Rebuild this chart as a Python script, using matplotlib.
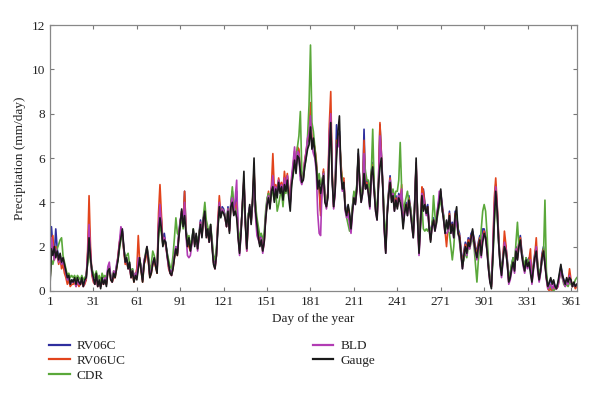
import matplotlib
matplotlib.use("Agg")
import matplotlib.pyplot as plt
import numpy as np

plt.rcParams['font.family'] = ['Liberation Serif', 'DejaVu Serif']

days = list(range(1, 366))

gauge = [
0.2,1.9,1.6,2.0,1.5,1.8,1.4,1.7,1.3,1.5,
1.2,0.9,0.6,0.7,0.3,0.5,0.4,0.6,0.3,0.6,
0.4,0.3,0.6,0.2,0.5,0.6,1.3,2.4,1.5,0.9,
0.6,0.3,0.8,0.2,0.5,0.1,0.6,0.3,0.5,0.2,
0.9,1.0,0.5,0.4,0.8,0.6,1.0,1.4,2.0,2.4,
2.8,2.0,1.3,1.5,1.0,1.3,0.6,0.9,0.4,0.7,
0.5,1.0,1.5,0.9,0.4,1.2,1.6,2.0,1.4,0.6,
0.8,1.2,1.5,1.1,0.8,2.6,3.3,2.8,2.0,2.3,
2.2,1.6,1.2,0.8,0.7,1.0,1.5,1.9,1.6,2.4,
3.0,3.7,2.9,3.4,2.6,2.0,2.4,1.8,2.2,2.8,
2.0,2.6,1.9,2.5,3.0,2.4,3.2,3.6,2.4,2.8,
2.2,3.0,2.0,1.2,1.0,1.6,2.8,3.8,3.3,3.6,
3.5,3.3,2.9,3.6,2.6,3.8,4.0,3.4,3.6,3.3,
2.4,1.7,2.6,4.0,5.4,3.0,1.9,3.2,3.9,3.0,
4.2,6.0,3.6,3.0,2.4,2.0,2.3,1.8,2.2,3.2,
3.9,4.2,3.7,4.5,4.7,4.0,4.6,4.2,4.9,4.4,
4.7,4.1,4.8,4.5,5.0,4.2,3.6,4.8,5.3,5.9,
5.3,6.1,6.0,5.4,4.9,5.0,5.6,6.0,6.4,6.6,
7.4,6.4,6.9,6.2,5.6,4.6,5.0,4.4,4.8,5.2,
4.0,3.8,4.2,6.3,7.6,5.0,3.8,4.5,6.0,7.2,
7.9,5.4,4.6,4.9,3.7,3.4,3.9,3.5,2.8,3.6,
4.2,3.9,4.6,6.4,4.8,4.0,4.4,5.3,4.6,4.8,
4.4,3.8,5.2,5.6,4.5,3.6,3.2,4.8,5.6,6.0,
4.6,2.8,1.7,3.4,4.3,4.9,4.0,4.3,3.6,4.1,
3.7,4.2,4.0,3.6,2.8,3.5,3.9,3.4,4.1,3.6,
3.0,2.4,3.8,6.0,3.2,1.7,3.0,4.3,3.6,3.9,
3.5,3.8,2.8,2.2,2.9,3.2,2.7,3.1,3.6,4.0,
4.6,3.7,3.2,2.6,3.2,2.8,3.4,2.6,3.0,2.4,
3.4,3.8,2.6,2.4,1.7,1.0,1.6,2.0,1.7,2.2,
2.0,2.4,2.8,2.2,1.8,1.5,2.0,2.3,1.6,2.2,
2.6,2.4,1.8,1.0,0.4,0.1,1.5,3.2,4.5,3.6,
2.2,1.2,0.7,1.4,2.0,1.8,1.2,0.4,0.6,1.0,
1.3,0.9,1.8,1.4,2.0,2.3,1.6,1.2,0.9,1.4,
1.1,1.3,0.8,0.4,1.0,1.5,1.8,1.0,0.5,0.9,
1.5,1.8,1.2,0.6,0.2,0.4,0.6,0.3,0.5,0.2,
0.1,0.4,0.8,1.2,0.7,0.5,0.3,0.6,0.4,0.6,
0.5,0.2,0.4,0.2,0.3]

rv06c = [
0.3,2.9,2.0,1.6,2.8,1.9,1.5,1.6,1.2,1.4,
1.0,0.8,0.5,0.6,0.4,0.4,0.5,0.5,0.3,0.5,
0.3,0.4,0.5,0.3,0.4,0.5,1.5,3.0,1.6,0.8,
0.5,0.4,0.7,0.3,0.4,0.2,0.5,0.4,0.6,0.3,
1.0,1.1,0.6,0.5,0.7,0.7,1.1,1.5,2.1,2.6,
2.7,1.9,1.4,1.4,1.1,1.2,0.7,1.0,0.5,0.8,
0.6,1.2,1.4,1.0,0.5,1.3,1.5,1.9,1.5,0.7,
0.9,1.3,1.4,1.2,0.9,2.9,3.9,3.2,2.2,2.6,
2.1,1.7,1.1,0.9,0.8,1.1,1.6,2.0,1.7,2.6,
3.2,3.5,3.1,4.5,2.8,2.2,2.1,1.9,2.3,2.7,
2.2,2.5,2.0,2.6,3.2,2.6,3.3,3.5,2.6,2.7,
2.3,2.9,2.2,1.4,1.1,1.7,3.0,3.9,3.4,3.8,
3.7,3.4,3.0,3.8,2.8,4.0,4.5,3.6,3.8,4.5,
2.6,1.9,2.8,3.8,4.9,3.2,2.0,3.4,3.8,3.2,
4.0,5.3,3.8,2.9,2.6,2.2,2.5,1.9,2.3,3.4,
4.1,4.4,3.9,4.6,5.0,4.3,4.7,4.4,5.0,4.6,
4.8,4.4,5.0,4.7,5.2,4.5,4.0,5.0,5.5,6.2,
5.6,6.4,6.3,5.2,5.0,5.2,5.8,6.2,6.7,6.9,
7.6,6.6,6.6,6.4,5.8,4.8,4.7,3.6,4.9,5.4,
4.2,3.9,4.4,7.0,8.1,5.2,3.9,4.6,7.5,6.8,
7.2,5.6,4.8,5.0,3.9,3.6,3.8,3.4,3.0,3.8,
4.4,4.1,4.7,6.2,5.0,4.2,4.6,7.3,4.8,5.0,
4.6,4.0,5.4,5.8,4.7,3.8,3.4,5.0,7.5,6.2,
4.8,3.0,1.9,3.6,4.5,5.2,4.3,4.5,3.8,4.3,
3.9,4.4,4.2,4.5,3.0,3.7,4.0,3.6,4.3,3.8,
3.2,2.6,4.0,5.6,3.4,1.9,3.2,4.4,4.6,4.0,
3.6,3.9,3.0,2.4,3.1,3.3,2.9,3.3,3.8,4.2,
4.4,3.9,3.4,2.8,3.0,2.9,3.6,2.8,3.1,2.6,
3.6,3.4,2.8,2.6,1.9,1.2,1.8,2.2,1.9,2.4,
2.2,2.6,2.7,2.4,2.0,1.7,2.2,2.5,1.8,2.8,
2.8,2.5,2.0,1.2,0.6,0.3,1.7,3.6,4.8,3.8,
2.4,1.4,0.9,1.6,2.2,2.0,1.4,0.5,0.8,1.2,
1.5,1.1,2.0,1.6,2.2,2.5,1.8,1.4,1.0,1.5,
1.3,1.5,1.0,0.5,1.2,1.7,2.0,1.2,0.6,1.0,
1.7,2.0,1.4,0.7,0.2,0.3,0.5,0.4,0.4,0.2,
0.2,0.3,0.7,1.1,0.8,0.5,0.4,0.5,0.5,0.7,
0.4,0.3,0.3,0.2,0.2]

rv06uc = [
0.4,2.2,2.5,1.4,2.0,1.6,1.2,1.5,1.0,1.2,
0.8,0.6,0.3,0.5,0.2,0.3,0.3,0.4,0.2,0.4,
0.2,0.3,0.4,0.2,0.3,0.5,1.8,4.3,2.0,0.7,
0.4,0.3,0.6,0.2,0.3,0.2,0.4,0.3,0.5,0.3,
0.9,1.0,0.5,0.4,0.6,0.6,1.0,1.6,2.2,2.5,
2.6,1.8,1.2,1.3,1.0,1.1,0.6,0.8,0.4,0.7,
1.0,2.5,1.3,0.9,0.4,1.2,1.4,1.8,1.3,0.6,
0.8,1.2,1.3,1.1,0.8,3.5,4.8,3.4,2.1,2.4,
2.0,1.6,1.0,0.8,0.7,1.0,1.5,1.9,1.6,2.5,
3.1,3.6,3.0,4.5,2.7,2.1,2.0,1.8,2.2,2.6,
2.1,2.4,1.9,2.5,3.1,2.5,3.2,3.4,2.5,2.6,
2.2,2.8,2.1,1.3,1.0,1.6,3.2,4.3,3.5,3.7,
3.6,3.3,2.9,3.7,2.7,3.9,4.3,3.5,3.7,4.0,
2.5,1.8,2.7,3.9,5.0,3.1,1.8,3.3,3.7,3.1,
4.1,5.5,3.7,2.8,2.5,2.1,2.4,1.8,2.2,3.3,
4.0,4.5,3.8,4.7,6.2,4.6,4.8,4.5,5.1,4.7,
4.9,4.5,5.4,4.8,5.3,4.6,4.1,5.1,5.6,6.3,
5.7,6.5,6.4,5.3,5.1,5.1,5.9,6.3,6.8,7.0,
8.5,6.8,6.7,6.5,5.9,4.9,4.6,3.4,4.8,5.5,
4.1,3.8,4.5,7.5,9.0,5.4,3.8,4.5,6.8,6.6,
7.0,5.8,5.0,5.1,3.8,3.5,3.7,3.3,2.9,3.7,
4.3,4.0,4.6,6.1,4.9,4.1,4.5,6.8,4.7,4.9,
4.5,3.9,5.3,5.7,4.6,3.7,3.3,4.9,7.6,6.1,
4.7,2.9,1.8,3.5,4.4,5.1,4.2,4.4,3.7,4.2,
3.8,4.3,4.1,4.8,3.1,3.6,3.9,3.5,4.2,3.7,
3.1,2.5,3.9,5.7,3.3,1.8,3.1,4.7,4.5,3.9,
3.5,3.8,2.9,2.3,3.0,3.2,2.8,3.2,3.7,4.1,
4.3,3.8,3.3,2.7,2.0,2.8,3.5,2.7,3.0,2.5,
3.5,3.3,2.7,2.5,1.8,1.1,1.7,2.1,1.8,2.3,
2.1,2.5,2.6,2.3,1.9,1.6,2.1,2.4,1.7,2.5,
2.7,2.4,1.9,1.1,0.5,0.2,1.9,4.2,5.1,3.9,
2.5,1.3,0.8,1.5,2.7,2.1,1.3,0.4,0.7,1.1,
1.4,1.0,1.9,1.5,2.2,2.4,1.7,1.3,0.9,1.4,
1.2,1.4,1.9,0.4,1.1,1.6,2.4,1.1,0.5,0.9,
1.6,1.9,1.3,0.6,0.1,0.0,0.1,0.0,0.2,0.1,
0.1,0.2,0.6,1.0,0.7,0.4,0.3,0.5,0.4,1.0,
0.5,0.2,0.3,0.1,0.2]

cdr = [
0.5,1.4,1.2,1.5,1.6,1.9,2.1,2.3,2.4,1.6,
1.3,1.0,0.7,0.8,0.6,0.7,0.6,0.7,0.5,0.7,
0.6,0.5,0.7,0.5,0.6,0.7,1.2,1.9,1.3,1.0,
0.8,0.6,0.9,0.5,0.7,0.4,0.8,0.6,0.7,0.5,
0.9,1.1,0.7,0.6,0.9,0.8,1.1,1.4,1.9,2.3,
2.5,1.9,1.5,1.6,1.7,1.2,0.8,1.0,0.6,0.8,
0.7,1.1,1.4,1.1,0.6,1.3,1.7,2.0,1.6,0.9,
1.2,1.8,1.6,1.3,1.0,2.4,3.0,2.6,2.1,2.2,
2.1,1.7,1.4,1.1,1.0,1.6,2.4,3.3,2.6,2.5,
2.9,3.4,2.8,3.6,2.7,2.3,2.5,2.1,2.3,2.8,
2.3,2.5,2.2,2.6,3.0,2.8,3.4,4.0,3.2,2.9,
2.6,3.0,2.3,1.6,1.4,1.9,2.9,3.6,3.4,3.7,
3.6,3.4,3.1,3.7,3.0,3.9,4.7,3.8,3.7,3.5,
2.9,2.2,2.8,3.6,4.6,3.3,2.4,3.5,3.6,3.3,
3.9,5.0,3.9,3.3,2.9,2.5,2.6,2.3,2.6,3.6,
4.2,4.4,4.0,4.5,4.4,4.1,4.5,3.6,3.9,4.3,
4.5,3.8,4.6,4.4,4.8,4.3,4.0,4.9,5.2,5.8,
5.8,6.5,7.0,8.1,5.4,5.0,5.6,6.0,7.0,8.4,
11.1,7.6,7.2,6.5,5.7,5.0,5.3,4.8,5.0,5.3,
4.3,4.0,4.4,6.2,7.3,5.1,4.0,4.6,6.4,6.8,
7.0,5.6,4.9,4.7,3.8,3.3,3.0,2.7,3.0,3.8,
4.5,4.2,4.8,6.0,5.0,4.3,4.6,6.0,5.4,5.0,
5.0,4.4,5.3,7.3,4.8,3.9,3.7,4.9,5.8,5.8,
4.8,3.3,2.3,3.6,4.4,4.8,4.3,4.6,4.2,4.5,
4.5,5.0,6.7,4.6,3.6,3.9,4.2,4.5,4.0,3.8,
3.3,2.8,3.9,5.5,3.5,2.2,3.2,3.9,2.8,2.7,
2.8,2.7,2.9,2.6,3.0,4.3,3.4,3.0,3.5,3.8,
4.2,3.6,3.4,2.9,3.0,2.7,2.6,2.0,1.4,2.0,
3.0,3.4,2.7,2.2,1.6,1.2,1.4,1.8,1.5,2.0,
1.9,2.2,2.4,2.0,1.2,0.4,1.4,2.0,2.8,3.6,
3.9,3.6,2.6,1.2,0.6,0.3,1.4,3.0,4.3,3.4,
2.2,1.3,0.9,1.5,1.9,1.7,1.3,0.6,0.8,1.2,
1.5,1.2,2.2,3.1,2.0,2.1,1.7,1.4,1.1,1.5,
1.2,1.4,1.0,0.6,1.1,1.4,1.7,1.2,0.7,1.0,
1.3,1.6,4.1,0.9,0.2,0.1,0.2,0.1,0.0,0.1,
0.2,0.3,0.6,1.0,0.6,0.3,0.2,0.3,0.2,0.4,
0.3,0.2,0.3,0.5,0.6]

bld = [
0.6,2.4,2.0,1.4,1.9,1.7,1.3,1.6,1.2,1.4,
1.1,0.8,0.5,0.6,0.3,0.4,0.4,0.5,0.2,0.5,
0.3,0.3,0.5,0.2,0.4,0.6,1.6,3.0,1.7,0.8,
0.5,0.3,0.7,0.2,0.4,0.2,0.5,0.3,0.6,0.4,
1.1,1.3,0.6,0.4,0.9,0.7,1.2,1.5,2.2,2.9,
2.7,1.9,1.3,1.4,1.0,1.2,0.6,0.9,0.5,0.8,
0.7,1.5,1.4,1.0,0.5,1.4,1.6,2.0,1.4,0.7,
0.9,1.3,1.4,1.2,0.9,3.0,3.9,3.0,2.1,2.4,
2.1,1.5,1.1,0.8,0.7,1.1,1.6,2.0,1.7,2.5,
3.1,3.6,3.0,4.0,2.5,1.6,1.5,1.6,2.1,2.7,
2.1,2.5,1.8,2.4,3.1,2.5,3.3,3.5,2.5,2.7,
2.2,2.9,2.0,1.3,1.0,1.6,3.0,4.0,3.4,3.7,
3.6,3.3,2.9,3.7,2.7,3.9,4.2,3.5,4.2,5.0,
2.5,1.6,2.6,3.9,5.0,3.1,1.8,3.3,3.8,3.1,
4.0,5.2,3.4,2.5,2.3,2.1,2.4,1.7,2.2,3.3,
4.0,4.3,3.8,4.6,5.2,4.4,4.7,4.4,5.0,4.5,
4.8,4.4,5.1,4.6,5.2,4.4,3.9,5.2,5.8,6.5,
5.5,6.3,6.2,5.0,4.8,5.1,5.8,6.3,6.9,7.1,
7.9,6.5,6.2,6.0,5.4,3.5,2.6,2.5,4.7,5.3,
4.1,3.7,4.3,7.0,8.0,5.1,3.7,4.4,6.6,6.5,
7.0,5.3,4.5,4.8,3.6,3.3,3.5,3.0,2.6,3.5,
4.2,3.9,4.5,6.1,4.7,4.0,4.4,6.2,4.6,4.8,
4.4,3.7,5.1,5.5,4.5,3.6,3.2,4.7,7.0,6.0,
4.6,2.7,1.7,3.5,4.3,5.0,4.1,4.4,3.6,4.1,
3.8,4.3,4.1,4.6,3.1,3.5,3.8,3.4,4.0,3.6,
3.0,2.4,3.9,5.8,3.2,1.6,2.9,4.4,4.2,3.8,
3.4,3.7,2.8,2.3,2.9,3.1,2.7,3.1,3.7,4.5,
4.5,3.7,3.2,2.6,2.6,2.7,3.3,2.6,2.9,2.4,
3.3,3.0,2.6,2.3,1.6,1.0,1.6,2.0,1.6,2.1,
1.9,2.3,2.6,2.1,1.7,1.4,1.9,2.2,1.5,2.5,
2.6,2.3,1.8,1.0,0.4,0.2,1.8,3.8,4.7,3.7,
2.3,1.2,0.6,1.3,2.2,1.9,1.2,0.3,0.5,0.9,
1.2,0.8,1.9,1.4,2.0,2.2,1.6,1.1,0.8,1.3,
1.0,1.2,1.4,0.3,0.9,1.4,2.0,0.9,0.4,0.8,
1.4,1.7,1.3,0.5,0.1,0.2,0.3,0.1,0.3,0.1,
0.1,0.2,0.6,1.0,0.6,0.4,0.2,0.5,0.3,0.7,
0.4,0.2,0.3,0.2,0.3]

series_names = ["RV06C", "RV06UC", "CDR", "BLD", "Gauge"]
series_values = [rv06c, rv06uc, cdr, bld, gauge]
series_colors = ["#2e2e9e", "#e2441c", "#5aa83a", "#b23cb4", "#1a1a1a"]

xticks = [1, 31, 61, 91, 121, 151, 181, 211, 241, 271, 301, 331, 361]
yticks = [0, 2, 4, 6, 8, 10, 12]

fig = plt.figure(figsize=(6.0, 3.98), dpi=100)
ax = fig.add_axes([0.0833, 0.269, 0.878, 0.668])

handles = []
for name, vals, col in zip(series_names, series_values, series_colors):
    h, = ax.plot(days, vals, color=col, lw=1.2, label=name)
    handles.append(h)

ax.set_xlim(1, 365)
ax.set_ylim(0, 12)
ax.set_xticks(xticks)
ax.set_yticks(yticks)
ax.tick_params(direction='in', top=True, right=True, length=3, width=0.8,
               colors='#777777', labelcolor='#222222', labelsize=9.5)
for s in ax.spines.values():
    s.set_color('#888888')
    s.set_linewidth(0.9)
ax.set_xlabel("Day of the year", fontsize=9.5, color='#222222', labelpad=4)
ax.set_ylabel("Precipitation (mm/day)", fontsize=9.5, color='#222222', labelpad=4)

leg_kw = dict(frameon=False, fontsize=9.5, handlelength=1.55, handletextpad=0.55,
              labelspacing=0.2, borderpad=0, borderaxespad=0, loc='upper left')
l1 = fig.legend(handles[:3], series_names[:3], bbox_to_anchor=(0.082, 0.146), **leg_kw)
l2 = fig.legend(handles[3:], series_names[3:], bbox_to_anchor=(0.521, 0.146), **leg_kw)
for leg in (l1, l2):
    for ln in leg.get_lines():
        ln.set_linewidth(1.6)
    for t in leg.get_texts():
        t.set_color('#222222')

fig.savefig("out.png", dpi=100)
